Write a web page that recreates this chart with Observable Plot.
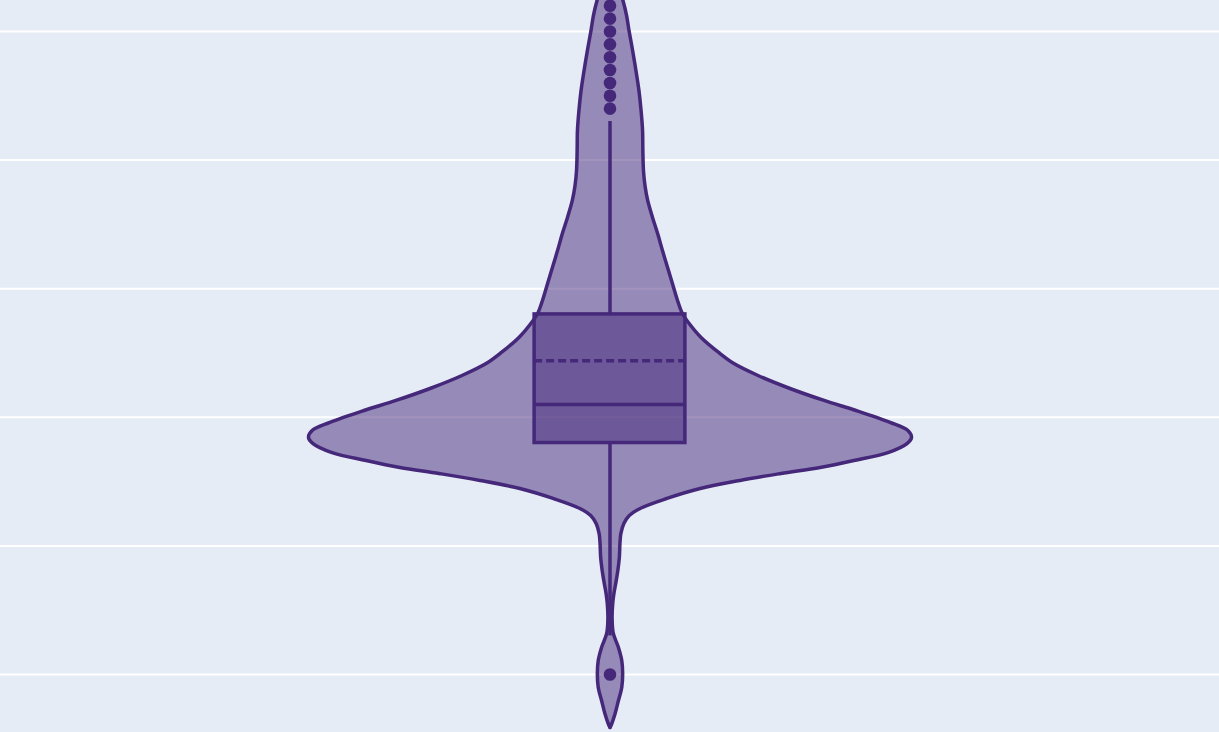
<!DOCTYPE html>
<html>
<head>
<meta charset="utf-8">
<script src="https://cdn.jsdelivr.net/npm/d3@7"></script>
<script src="https://cdn.jsdelivr.net/npm/@observablehq/plot@0.6"></script>
<style>
  html, body { margin: 0; padding: 0; background: #E5ECF6; overflow: hidden; }
  #chart svg { display: block; }
</style>
</head>
<body>
<div id="chart"></div>
<script>
// Grid tick values
const gridTicks = [0, 10, 20, 30, 40, 50];

// Violin outline: value and relative half-width (density)
const violinValue = [53.58, 52.41, 51.24, 50.08, 48.52, 46.97, 45.41, 43.86, 42.30, 40.75, 39.19, 38.02,
  36.86, 35.54, 34.29, 32.97, 31.65, 30.40, 29.08, 28.07, 27.53, 26.21, 24.96, 24.18, 23.25, 22.24,
  21.31, 20.53, 19.60, 18.97, 18.43, 17.96, 17.26, 16.64, 16.10, 15.63, 15.09, 14.46, 13.69, 12.91,
  12.36, 11.74, 10.96, 10.19, 9.10, 8.09, 7.08, 6.30, 5.52, 4.35, 3.19, 2.10, 1.09, 0.08, -1.01,
  -2.02, -3.03, -3.81, -4.12];
const violinDensity = [0.027, 0.043, 0.055, 0.063, 0.075, 0.086, 0.096, 0.103, 0.108, 0.109, 0.111, 0.116,
  0.125, 0.141, 0.158, 0.174, 0.191, 0.207, 0.224, 0.240, 0.255, 0.302, 0.365, 0.411, 0.491, 0.597,
  0.710, 0.816, 0.929, 0.988, 1.0, 0.985, 0.922, 0.809, 0.697, 0.567, 0.431, 0.299, 0.189, 0.100,
  0.064, 0.046, 0.036, 0.033, 0.031, 0.026, 0.019, 0.013, 0.009, 0.007, 0.011, 0.028, 0.039, 0.042, 0.039,
  0.028, 0.017, 0.006, 0];

// Box statistics
const q1 = 18, median = 21, q3 = 28, mean = 24.4;
const whiskerLow = 3, whiskerHigh = 43;
const outliers = [0, 44, 45, 46, 47, 48, 49, 50, 51, 52];

const color = "#45287a";
const boxHalf = 0.25;

const violin = violinValue.map((v, i) => ({value: v, w: violinDensity[i]}));

const W = 1219, H = 732;
const xMax = (W / 2) / 301.5;

const chart = Plot.plot({
  width: W,
  height: H,
  margin: 0,
  style: {background: "#E5ECF6", overflow: "hidden"},
  x: {domain: [-xMax, xMax], axis: null},
  y: {domain: [-4.51, 52.41], axis: null},
  marks: [
    Plot.ruleY(gridTicks, {stroke: "white", strokeWidth: 2}),
    Plot.areaX(violin, {y: "value", x1: d => -d.w, x2: d => d.w, fill: color, fillOpacity: 0.5, curve: "catmull-rom", clip: true}),
    Plot.lineX(violin, {y: "value", x: d => -d.w, stroke: color, strokeWidth: 3.5, curve: "catmull-rom", clip: true}),
    Plot.lineX(violin, {y: "value", x: d => d.w, stroke: color, strokeWidth: 3.5, curve: "catmull-rom", clip: true}),
    Plot.ruleX([0], {y1: q3, y2: whiskerHigh, stroke: color, strokeWidth: 3.5}),
    Plot.ruleX([0], {y1: whiskerLow, y2: q1, stroke: color, strokeWidth: 3.5}),
    Plot.rect([{q1, q3}], {x1: -boxHalf, x2: boxHalf, y1: "q1", y2: "q3", fill: color, fillOpacity: 0.5, stroke: color, strokeWidth: 3.5}),
    Plot.ruleY([median], {x1: -boxHalf, x2: boxHalf, stroke: color, strokeWidth: 3.5}),
    Plot.ruleY([mean], {x1: -boxHalf, x2: boxHalf, stroke: color, strokeWidth: 3.5, strokeDasharray: "8,4"}),
    Plot.dot(outliers, {x: () => 0, y: d => d, r: 6.3, fill: color, stroke: null, clip: true})
  ]
});
document.getElementById("chart").appendChild(chart);
</script>
</body>
</html>
